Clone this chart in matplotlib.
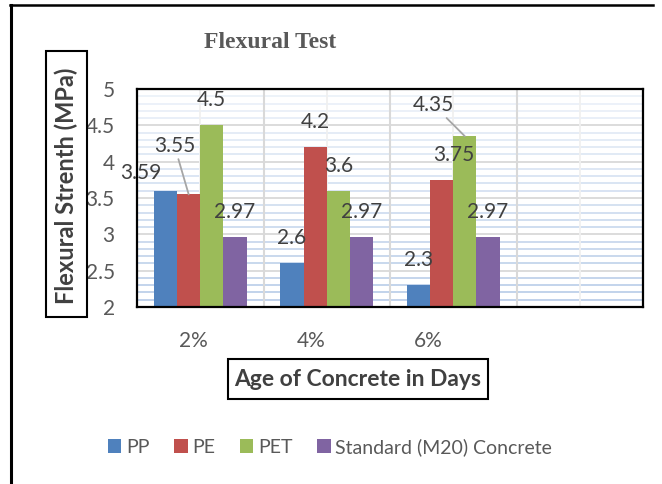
import matplotlib.pyplot as plt
from matplotlib.patches import Rectangle
from matplotlib.lines import Line2D
import matplotlib.transforms as mtransforms
import numpy as np

plt.rcParams['font.family'] = ['Lato', 'DejaVu Sans']

# ─── data ─────────────────────────────────────────────
categories = ['2%', '4%', '6%']
series = ['PP', 'PE', 'PET', 'Standard (M20) Concrete']
pp = [3.59, 2.6, 2.3]
pe = [3.55, 4.2, 3.75]
pet = [4.5, 3.6, 4.35]
std = [2.97, 2.97, 2.97]
values = [pp, pe, pet, std]
colors = ['#4F81BD', '#C0504D', '#9BBB59', '#8064A2']

TXT = '#404040'
TICK = '#595959'

W, H = 662, 484
fig = plt.figure(figsize=(W / 100, H / 100), dpi=100)


def fx(p):
    return p / W


def fy(p):
    return 1 - p / H


ax = fig.add_axes([fx(137), fy(307), fx(643) - fx(137), fy(89) - fy(307)])

# ─── gridlines ─────────────────────────────────────────
lo, hi = np.array([0xB9, 0xCD, 0xE8]) / 255, np.array([0xEE, 0xF3, 0xFA]) / 255
for y in np.arange(2.1, 5.0, 0.1):
    if abs(y * 2 - round(y * 2)) < 1e-6:
        continue
    t = (y - 2) / 3
    ax.axhline(y, color=lo + (hi - lo) * t, lw=1.3, zorder=0)
for y in np.arange(2.5, 5.0, 0.5):
    ax.axhline(y, color='#d9d9d9', lw=1.3, zorder=0.5)
for xv in np.arange(0, 4, 1.0):
    ax.axvline(xv, color='#f0f0f0', lw=1.3, zorder=0.5)
for xv in np.arange(0.5, 3, 1.0):
    ax.axvline(xv, color='#d9d9d9', lw=1.5, zorder=0.5)

# ─── bars ──────────────────────────────────────────────
x = np.arange(len(categories))
bw = 0.183
bars = []
for j, (vals, c) in enumerate(zip(values, colors)):
    b = ax.bar(x + (j - 1.5) * bw, [v - 2 for v in vals], bw, bottom=2,
               color=c, zorder=2, label=series[j])
    bars.append(b)

# data labels (offsets in pixels)
label_off = {(0, 0): (-25, 18), (1, 0): (-14, 48), (1, 2): (12, 25), (2, 2): (-31, 31)}
leader = {(1, 0), (2, 2)}
for j, vals in enumerate(values):
    for i, v in enumerate(vals):
        dx, dy = label_off.get((j, i), (0, 25))
        kw = {}
        if (j, i) in leader:
            kw['arrowprops'] = dict(arrowstyle='-', color='#a6a6a6', lw=1.3,
                                    shrinkA=0, shrinkB=0)
        ax.annotate(f'{v:g}', xy=(x[i] + (j - 1.5) * bw, v), xytext=(dx, dy),
                    textcoords='offset pixels', ha='center', va='center',
                    fontsize=15, color=TXT, zorder=4, **kw)

ax.set_xlim(-0.5, 3.5)
ax.set_ylim(2, 5)
ax.set_yticks(np.arange(2, 5.01, 0.5))
ax.set_yticklabels(['2', '2.5', '3', '3.5', '4', '4.5', '5'])
ax.set_xticks(x)
ax.set_xticklabels(categories)
ax.tick_params(length=0, labelsize=15, colors=TICK)
ax.tick_params(axis='y', pad=16)
ax.tick_params(axis='x', pad=17)
for lbl, s in zip(ax.get_xticklabels(), [-7, -16, -25]):
    lbl.set_transform(lbl.get_transform() +
                      mtransforms.ScaledTranslation(s / 100, 0, fig.dpi_scale_trans))
for sp in ax.spines.values():
    sp.set_color('black')
    sp.set_linewidth(1.6)
    sp.set_zorder(5)

# ─── titles & boxes ────────────────────────────────────
fig.text(fx(270), fy(43), 'Flexural Test', ha='center', va='center',
         fontsize=17, fontweight='bold', color=TICK, family='Liberation Serif')

fig.add_artist(Rectangle((fx(46), fy(317)), fx(87) - fx(46), fy(51) - fy(317),
                         transform=fig.transFigure, fill=False, ec='black', lw=1.5))
fig.text(fx(66.5), fy(186), 'Flexural Strenth (MPa)', rotation=90, ha='center',
         va='center', fontsize=17, fontweight='bold', color=TXT)

fig.add_artist(Rectangle((fx(228), fy(399)), fx(488) - fx(228), fy(359) - fy(399),
                         transform=fig.transFigure, fill=False, ec='black', lw=1.5))
fig.text(fx(358), fy(380), 'Age of Concrete in Days', ha='center', va='center',
         fontsize=16.5, fontweight='bold', color=TXT)

# outer frame (top + left only)
fig.add_artist(Line2D([fx(10), fx(653)], [fy(5), fy(5)], color='black', lw=1.8,
                      transform=fig.transFigure))
fig.add_artist(Line2D([fx(11), fx(11)], [fy(5), 0], color='black', lw=2.2,
                      transform=fig.transFigure))

fig.legend(handles=bars, labels=series, loc='center', ncol=4,
           bbox_to_anchor=(fx(330), fy(447)), frameon=False, fontsize=14,
           handlelength=0.7, handleheight=0.7, handletextpad=0.25,
           columnspacing=1.25, labelcolor=TICK)

fig.savefig('out.png', dpi=100)
